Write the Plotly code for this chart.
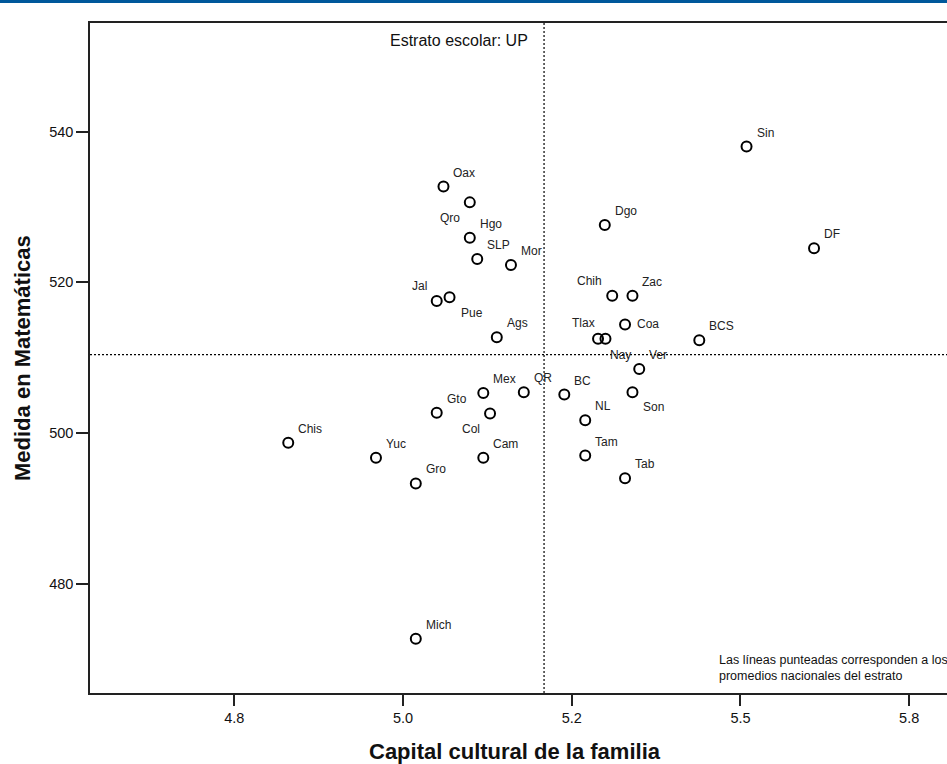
import plotly.graph_objects as go

# ---- data ----
states = ["Sin", "DF", "Oax", "Qro", "Hgo", "SLP", "Mor", "Dgo", "Chih", "Zac",
          "Jal", "Pue", "Coa", "BCS", "Ags", "Tlax", "Nay", "Ver", "Mex", "QR",
          "BC", "Son", "Gto", "Col", "NL", "Chis", "Yuc", "Cam", "Tam", "Tab",
          "Gro", "Mich"]
capital_cultural = [5.509, 5.609, 5.060, 5.099, 5.099, 5.110, 5.160, 5.299, 5.310, 5.340,
                    5.050, 5.069, 5.329, 5.439, 5.139, 5.289, 5.300, 5.350, 5.119, 5.179,
                    5.239, 5.340, 5.050, 5.129, 5.270, 4.830, 4.960, 5.119, 5.270, 5.329,
                    5.019, 5.019]
media_matematicas = [538.0, 524.5, 532.7, 530.6, 525.9, 523.1, 522.3, 527.6, 518.2, 518.2,
                     517.5, 518.0, 514.4, 512.3, 512.7, 512.5, 512.5, 508.5, 505.3, 505.4,
                     505.1, 505.4, 502.7, 502.6, 501.7, 498.7, 496.7, 496.7, 497.0, 494.0,
                     493.3, 472.7]
promedio_x = 5.209
promedio_y = 510.4

x_tickvals = [4.75, 5.0, 5.25, 5.5, 5.75]
x_ticktext = ["4.8", "5.0", "5.2", "5.5", "5.8"]
y_tickvals = [480, 500, 520, 540]
y_ticktext = ["480", "500", "520", "540"]

# ---- label placement (layout only) ----
default_place = ("left", 8, 14)
label_place = {
    "Qro": ("right", -8, -16),
    "Chih": ("right", -8, 15),
    "Jal": ("right", -8, 15),
    "Pue": ("left", 9, -16),
    "Coa": ("left", 10, 0),
    "Tlax": ("right", -1, 16),
    "Nay": ("left", 3, -16),
    "Son": ("left", 9, -15),
    "Col": ("right", -8, -16),
}

FONT = "Liberation Sans, Arial, sans-serif"
X_RANGE = [4.5363, 5.806]
Y_RANGE = [465.5, 554.4]

fig = go.Figure()
fig.add_trace(go.Scatter(
    x=capital_cultural, y=media_matematicas, mode="markers",
    marker=dict(symbol="circle-open", size=10, color="black",
                line=dict(width=2, color="black")),
    hoverinfo="text", text=states, showlegend=False,
))

annotations = []
for name, xv, yv in zip(states, capital_cultural, media_matematicas):
    anchor, dx, dy = label_place.get(name, default_place)
    annotations.append(dict(
        x=xv, y=yv, xref="x", yref="y", text=name, showarrow=False,
        xanchor=anchor, yanchor="middle", xshift=dx, yshift=dy,
        font=dict(family=FONT, size=12, color="#222"),
    ))

annotations += [
    dict(x=(458.5 - 90) / 857, y=(693 - 40.7) / 670, xref="paper", yref="paper",
         text="Estrato escolar: UP", showarrow=False, xanchor="center", yanchor="middle",
         font=dict(family=FONT, size=16, color="#111")),
    dict(x=(716.5 - 90) / 857, y=(693 - 668) / 670, xref="paper", yref="paper",
         text="Las líneas punteadas corresponden a los<br>promedios nacionales del estrato",
         showarrow=False, xanchor="left", yanchor="middle", align="left",
         font=dict(family=FONT, size=12.5, color="#111")),
    dict(x=(515 - 90) / 857, y=(693 - 751) / 670, xref="paper", yref="paper",
         text="<b>Capital cultural de la familia</b>", showarrow=False,
         xanchor="center", yanchor="middle",
         font=dict(family=FONT, size=22, color="#111")),
    dict(x=-(90 - 22) / 857, y=(693 - 358) / 670, xref="paper", yref="paper",
         text="<b>Medida en Matemáticas</b>", showarrow=False, textangle=-90,
         xanchor="center", yanchor="middle",
         font=dict(family=FONT, size=22, color="#111")),
]

shapes = [
    dict(type="line", xref="x", yref="paper", x0=promedio_x, x1=promedio_x, y0=0, y1=1,
         line=dict(color="black", width=1.2, dash="2px,2px")),
    dict(type="line", xref="paper", yref="y", x0=0, x1=1, y0=promedio_y, y1=promedio_y,
         line=dict(color="black", width=1.2, dash="2px,2px")),
    dict(type="rect", xref="paper", yref="paper", x0=-90 / 857, x1=1.0,
         y0=1 + 20 / 670, y1=1 + 23.5 / 670, line=dict(width=0), fillcolor="#00589b",
         layer="above"),
]

fig.update_layout(
    width=947, height=764,
    margin=dict(l=90, r=0, t=23, b=71, pad=0),
    paper_bgcolor="white", plot_bgcolor="white",
    font=dict(family=FONT, color="#111"),
    annotations=annotations, shapes=shapes,
    showlegend=False,
)
fig.update_xaxes(
    range=X_RANGE, tickvals=x_tickvals, ticktext=x_ticktext,
    showgrid=False, zeroline=False, showline=True, linecolor="#222", linewidth=1.5,
    mirror=True, ticks="outside", ticklen=11, tickwidth=2, tickcolor="#222",
    tickfont=dict(family=FONT, size=14.5, color="#111"),
)
fig.update_yaxes(
    range=Y_RANGE, tickvals=y_tickvals, ticktext=y_ticktext,
    showgrid=False, zeroline=False, showline=True, linecolor="#222", linewidth=1.5,
    mirror=False, ticks="outside", ticklen=12, tickwidth=2, tickcolor="#222",
    tickfont=dict(family=FONT, size=14.5, color="#111"),
)

fig.write_html("out.html")
